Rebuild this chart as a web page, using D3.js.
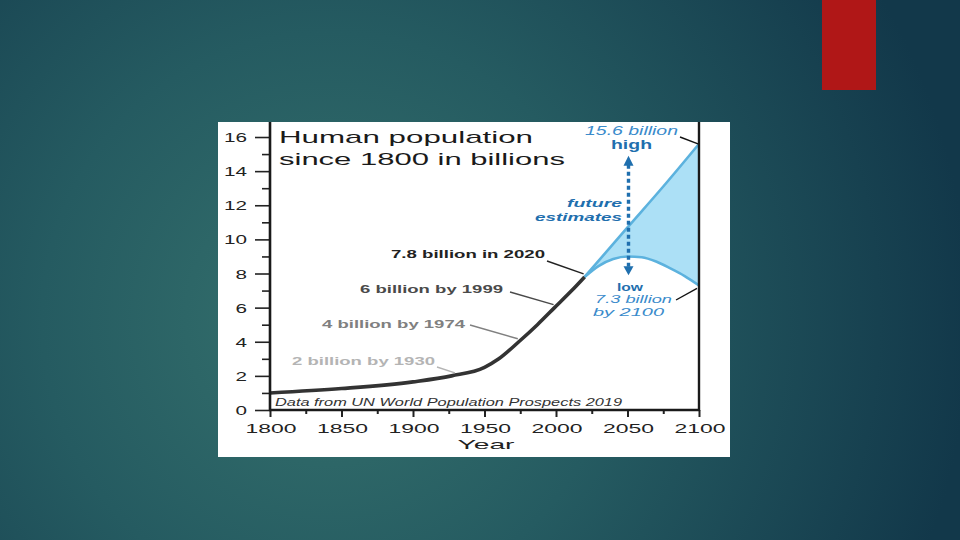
<!DOCTYPE html>
<html>
<head>
<meta charset="utf-8">
<script src="https://cdn.jsdelivr.net/npm/d3@7"></script>
<style>
html,body{margin:0;padding:0;width:960px;height:540px;overflow:hidden;background:#1d4d58;}
svg{display:block;}
text{font-family:"Liberation Sans",Arial,sans-serif;}
</style>
</head>
<body>
<svg id="c" width="960" height="540"></svg>
<script>
// ---- data ----
const histYears = [1800, 1850, 1900, 1927, 1950, 1960, 1974, 1987, 1999, 2011, 2020];
const histPop   = [1.0, 1.26, 1.65, 2.0, 2.5, 3.0, 4.0, 5.0, 6.0, 7.0, 7.8];
const lowYears  = [2020, 2030, 2040, 2050, 2060, 2070, 2080, 2090, 2100];
const lowPop    = [7.8, 8.45, 8.85, 9.0, 8.95, 8.7, 8.3, 7.85, 7.3];
const highYears = [2020, 2050, 2075, 2100];
const highPop   = [7.8, 10.7, 13.1, 15.6];
const yTickValues = [0, 2, 4, 6, 8, 10, 12, 14, 16];
const xTickValues = [1800, 1850, 1900, 1950, 2000, 2050, 2100];
const titleLines = ["Human population", "since 1800 in billions"];
const milestoneTexts = ["7.8 billion in 2020", "6 billion by 1999", "4 billion by 1974", "2 billion by 1930"];
const milestoneYears = [2020, 1999, 1974, 1930];
const milestoneValues = [7.8, 6, 4, 2];
const sourceText = "Data from UN World Population Prospects 2019";
const highTexts = ["15.6 billion", "high"];
const futureTexts = ["future", "estimates"];
const lowTexts = ["low", "7.3 billion", "by 2100"];
const arrowYear = 2050, arrowTop = 14.9, arrowBottom = 7.9;

// ---- layout ----
const svg = d3.select("#c");
const defs = svg.append("defs");
const rg = defs.append("radialGradient").attr("id","bg")
  .attr("gradientUnits","userSpaceOnUse").attr("cx",330).attr("cy",320).attr("r",640);
rg.append("stop").attr("offset","0").attr("stop-color","#35716d");
rg.append("stop").attr("offset","0.45").attr("stop-color","#255b61");
rg.append("stop").attr("offset","1").attr("stop-color","#12384a");
svg.append("rect").attr("width",960).attr("height",540).attr("fill","url(#bg)");
svg.append("rect").attr("x",822).attr("y",0).attr("width",54).attr("height",90).attr("fill","#b01717");

svg.append("rect").attr("x",218).attr("y",122).attr("width",512).attr("height",335).attr("fill","#ffffff");

const x = d3.scaleLinear().domain([1800, 2100]).range([270, 699]);
const y = d3.scaleLinear().domain([0, 16.88]).range([410, 122]);

function stretchText(sel, w) {
  sel.attr("textLength", w).attr("lengthAdjust", "spacingAndGlyphs");
  return sel;
}

// projection band
const lowPts = lowYears.map((yr,i)=>[yr, lowPop[i]]);
const highPts = highYears.map((yr,i)=>[yr, highPop[i]]);
const lowLine = d3.line().x(d=>x(d[0])).y(d=>y(d[1])).curve(d3.curveMonotoneX);
const highLine = d3.line().x(d=>x(d[0])).y(d=>y(d[1])).curve(d3.curveMonotoneX);
const bandPath = highLine(highPts) + "L" + lowLine(lowPts.slice().reverse()).slice(1) + "Z";
svg.append("path").attr("d", bandPath).attr("fill","#ace0f6");
svg.append("path").attr("d", lowLine(lowPts)).attr("fill","none").attr("stroke","#5cb2de").attr("stroke-width",2.6);
svg.append("path").attr("d", highLine(highPts)).attr("fill","none").attr("stroke","#5cb2de").attr("stroke-width",2.6);

// historical line
const histPts = histYears.map((yr,i)=>[yr, histPop[i]]);
svg.append("path").attr("d", d3.line().x(d=>x(d[0])).y(d=>y(d[1])).curve(d3.curveMonotoneX)(histPts))
  .attr("fill","none").attr("stroke","#333333").attr("stroke-width",3.6).attr("stroke-linejoin","round");

// axes
const yAxis = d3.axisLeft(y).tickValues(d3.range(0,17,1)).tickSize(0).tickFormat("");
const yg = svg.append("g").attr("transform","translate(270,0)").call(yAxis);
yg.select(".domain").remove();
yg.selectAll(".tick line").attr("x1", d => d%2===0 ? -15 : -8).attr("stroke","#222").attr("stroke-width",1.6);
svg.append("line").attr("x1",270).attr("x2",270).attr("y1",y(y.domain()[1])).attr("y2",y(0)+1)
  .attr("stroke","#1a1a1a").attr("stroke-width",2.6);
svg.append("line").attr("x1",x(2100)).attr("x2",x(2100)).attr("y1",y(y.domain()[1])).attr("y2",y(0)+1)
  .attr("stroke","#1a1a1a").attr("stroke-width",2.4);

const xAxis = d3.axisBottom(x).tickValues(d3.range(1800,2101,25)).tickSize(0).tickFormat("");
const xg = svg.append("g").attr("transform","translate(0,410)").call(xAxis);
xg.select(".domain").remove();
xg.selectAll(".tick line").attr("y2", d => d%50===0 ? 7 : 4).attr("stroke","#222").attr("stroke-width",2);
svg.append("line").attr("x1",269).attr("x2",x(2100)+1).attr("y1",410).attr("y2",410)
  .attr("stroke","#1a1a1a").attr("stroke-width",2.4);

// tick labels
yTickValues.forEach(v=>{
  const s = String(v);
  stretchText(svg.append("text").attr("x",247).attr("y",y(v)+5).attr("text-anchor","end")
    .attr("font-size",13.5).attr("fill","#222").text(s), s.length*11.5);
});
xTickValues.forEach(v=>{
  stretchText(svg.append("text").attr("x",x(v)+1).attr("y",433).attr("text-anchor","middle")
    .attr("font-size",13.5).attr("fill","#222").text(v), 51);
});
stretchText(svg.append("text").attr("x",486).attr("y",449).attr("text-anchor","middle")
  .attr("font-size",13.5).attr("fill","#222").text("Year"), 57);

// title
stretchText(svg.append("text").attr("x",279).attr("y",143).attr("font-size",17).attr("fill","#1a1a1a").text(titleLines[0]), 254);
stretchText(svg.append("text").attr("x",279).attr("y",165).attr("font-size",17).attr("fill","#1a1a1a").text(titleLines[1]), 286);

// milestones
const msLayout = [
  {tx:391, ty:258, w:154, col:"#222222", lx:547, ly:261},
  {tx:360, ty:293, w:143, col:"#4a4a4a", lx:510, ly:292},
  {tx:322, ty:328, w:143, col:"#808080", lx:470, ly:325},
  {tx:292, ty:365, w:143, col:"#b4b4b4", lx:437, ly:367}
];
milestoneTexts.forEach((t,i)=>{
  const L = msLayout[i];
  stretchText(svg.append("text").attr("x",L.tx).attr("y",L.ty).attr("font-size",11.5).attr("font-weight","bold")
    .attr("fill",L.col).text(t), L.w);
  svg.append("line").attr("x1",L.lx).attr("y1",L.ly).attr("x2",x(milestoneYears[i])-1).attr("y2",y(milestoneValues[i])-3)
    .attr("stroke",L.col).attr("stroke-width",1.4);
});

// source
stretchText(svg.append("text").attr("x",275).attr("y",406).attr("font-size",11).attr("font-style","italic")
  .attr("fill","#333").text(sourceText), 347);

// high annotation
const blueText = "#3a8bcb", blueBold = "#1f6fae";
stretchText(svg.append("text").attr("x",585).attr("y",135).attr("font-size",12).attr("font-style","italic")
  .attr("fill",blueText).text(highTexts[0]), 93);
stretchText(svg.append("text").attr("x",611).attr("y",149).attr("font-size",12).attr("font-weight","bold")
  .attr("fill",blueBold).text(highTexts[1]), 41);
svg.append("line").attr("x1",680).attr("y1",137).attr("x2",x(2100)-1).attr("y2",y(15.6)).attr("stroke","#111").attr("stroke-width",1.4);

// future estimates
stretchText(svg.append("text").attr("x",622).attr("y",207).attr("text-anchor","end").attr("font-size",11.5)
  .attr("font-style","italic").attr("font-weight","bold").attr("fill",blueBold).text(futureTexts[0]), 55);
stretchText(svg.append("text").attr("x",622).attr("y",221).attr("text-anchor","end").attr("font-size",11.5)
  .attr("font-style","italic").attr("font-weight","bold").attr("fill",blueBold).text(futureTexts[1]), 87);

// arrow
const ax = x(arrowYear)+1;
svg.append("line").attr("x1",ax).attr("x2",ax).attr("y1",y(arrowTop)+9).attr("y2",y(arrowBottom)-8)
  .attr("stroke","#1f6fae").attr("stroke-width",3.4).attr("stroke-dasharray","4,3");
svg.append("path").attr("d",`M${ax},${y(arrowTop)}L${ax-5},${y(arrowTop)+10}L${ax+5},${y(arrowTop)+10}Z`).attr("fill","#1f6fae");
svg.append("path").attr("d",`M${ax},${y(arrowBottom)}L${ax-5},${y(arrowBottom)-9}L${ax+5},${y(arrowBottom)-9}Z`).attr("fill","#1f6fae");

// low annotation
stretchText(svg.append("text").attr("x",630).attr("y",291).attr("text-anchor","middle").attr("font-size",10.5)
  .attr("font-weight","bold").attr("fill",blueBold).text(lowTexts[0]), 26);
stretchText(svg.append("text").attr("x",595).attr("y",303).attr("font-size",10.5).attr("font-style","italic")
  .attr("fill",blueText).text(lowTexts[1]), 77);
stretchText(svg.append("text").attr("x",593).attr("y",316).attr("font-size",10.5).attr("font-style","italic")
  .attr("fill",blueText).text(lowTexts[2]), 71);
svg.append("line").attr("x1",676).attr("y1",300).attr("x2",x(2100)-2).attr("y2",y(7.3)+3).attr("stroke","#111").attr("stroke-width",1.4);
</script>
</body>
</html>
